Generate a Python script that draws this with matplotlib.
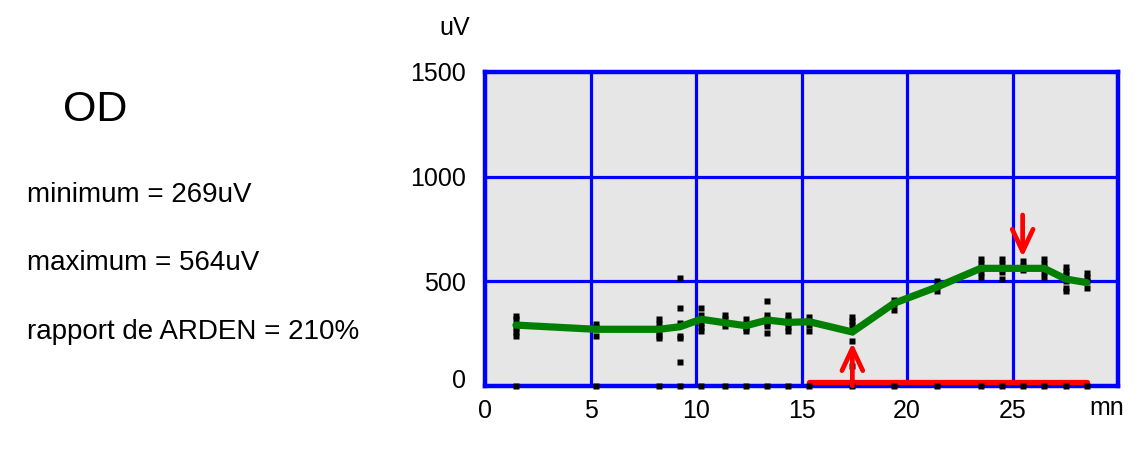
import numpy as np
from matplotlib import pyplot as plt
from matplotlib.transforms import ScaledTranslation

# Mean curve (minutes, uV)
times = [1.47, 5.24, 8.26, 9.24, 10.24, 11.37, 12.37, 13.38, 14.37, 15.37,
         17.41, 19.38, 21.4, 23.49, 24.5, 25.48, 26.5, 27.52, 28.52]
mean_uv = [291, 271, 271, 283, 319, 302, 288, 315, 304, 307,
           258, 395, 472, 562, 562, 562, 562, 511, 494]

# Individual measurements at each time
samples = [
    [335, 318, 277, 258, 240],
    [298, 280, 240],
    [318, 298, 278, 258, 238, 228],
    [518, 373, 299, 240, 228, 115],
    [373, 340, 320, 300, 280, 262],
    [340, 320, 300, 285],
    [318, 298, 278, 262],
    [406, 340, 320, 300, 285, 251],
    [340, 320, 300, 280, 262],
    [332, 312, 292, 265],
    [332, 310, 290, 215, 96],
    [410, 390, 365],
    [500, 480, 455],
    [605, 585, 565, 545, 520],
    [605, 585, 560, 545, 510],
    [595, 575, 555],
    [605, 585, 565, 545, 520],
    [570, 550, 530, 500, 470, 455],
    [540, 520, 500, 470],
]

# Light period bar and min / max markers
light_start, light_end, light_level = 15.36, 28.53, 21
min_time, min_tip = 17.41, 206
max_time, max_tip, max_tail = 25.48, 616, 817

xticks = [0, 5, 10, 15, 20, 25]
yticks = [0, 500, 1000, 1500]
info_lines = ["minimum = 269uV", "maximum = 564uV", "rapport de ARDEN = 210%"]

plt.rcParams['font.family'] = ['Liberation Sans', 'DejaVu Sans']

fig = plt.figure(figsize=(11.48, 4.58), dpi=100)
ax = fig.add_axes([485 / 1148, 72 / 458, 633 / 1148, 314 / 458])
ax.set_facecolor("#E6E6E6")
ax.set_xlim(0, 30)
ax.set_ylim(0, 1500)

# blue grid and frame
for x in xticks[1:]:
    ax.axvline(x, color="#0000FF", lw=2.3, zorder=1)
for y in yticks[1:-1]:
    ax.axhline(y, color="#0000FF", lw=2.3, zorder=1)
for s in ax.spines.values():
    s.set_color("#0000FF")
    s.set_linewidth(3.2)

# individual points
for t, vals in zip(times, samples):
    ax.plot([t] * len(vals), vals, ls="none", marker="s", ms=4.2,
            color="black", mec="none", zorder=3)
ax.plot(times, [0] * len(times), ls="none", marker="s", ms=4.2,
        color="black", mec="none", zorder=6, clip_on=False)

# mean line
ax.plot(times, mean_uv, color="#008000", lw=5.2, zorder=4,
        solid_capstyle="round", solid_joinstyle="miter")

# light period
ax.plot([light_start, light_end], [light_level, light_level], color="#FF0000",
        lw=3.8, solid_capstyle="round", zorder=5)

arrow = dict(arrowstyle="->,head_length=1.6,head_width=0.75", color="#FF0000",
             lw=3.4, shrinkA=0, shrinkB=0)
ax.annotate("", xy=(min_time, min_tip), xytext=(min_time, 0),
            arrowprops=arrow, zorder=7)
ax.annotate("", xy=(max_time, max_tip), xytext=(max_time, max_tail),
            arrowprops=arrow, zorder=7)

ax.set_xticks(xticks)
ax.set_yticks(yticks)
ax.tick_params(length=0, labelsize=18, pad=9)
ax.tick_params(axis="y", pad=14)
# the zero label sits a little above the axis
ylab0 = ax.get_yticklabels()[0]
ylab0.set_transform(ylab0.get_transform() + ScaledTranslation(0, 7 / 100, fig.dpi_scale_trans))

fig.text(455 / 1148, 1 - 28 / 458, "uV", fontsize=18, ha="center", va="center")
fig.text(1107 / 1148, 1 - 408 / 458, "mn", fontsize=18, ha="center", va="center")

fig.text(63 / 1148, 1 - 110 / 458, "OD", fontsize=31, ha="left", va="center")
for i, line in enumerate(info_lines):
    fig.text(27 / 1148, 1 - (195 + 68.5 * i) / 458, line, fontsize=20,
             ha="left", va="center")

plt.savefig("out.png", dpi=100)
